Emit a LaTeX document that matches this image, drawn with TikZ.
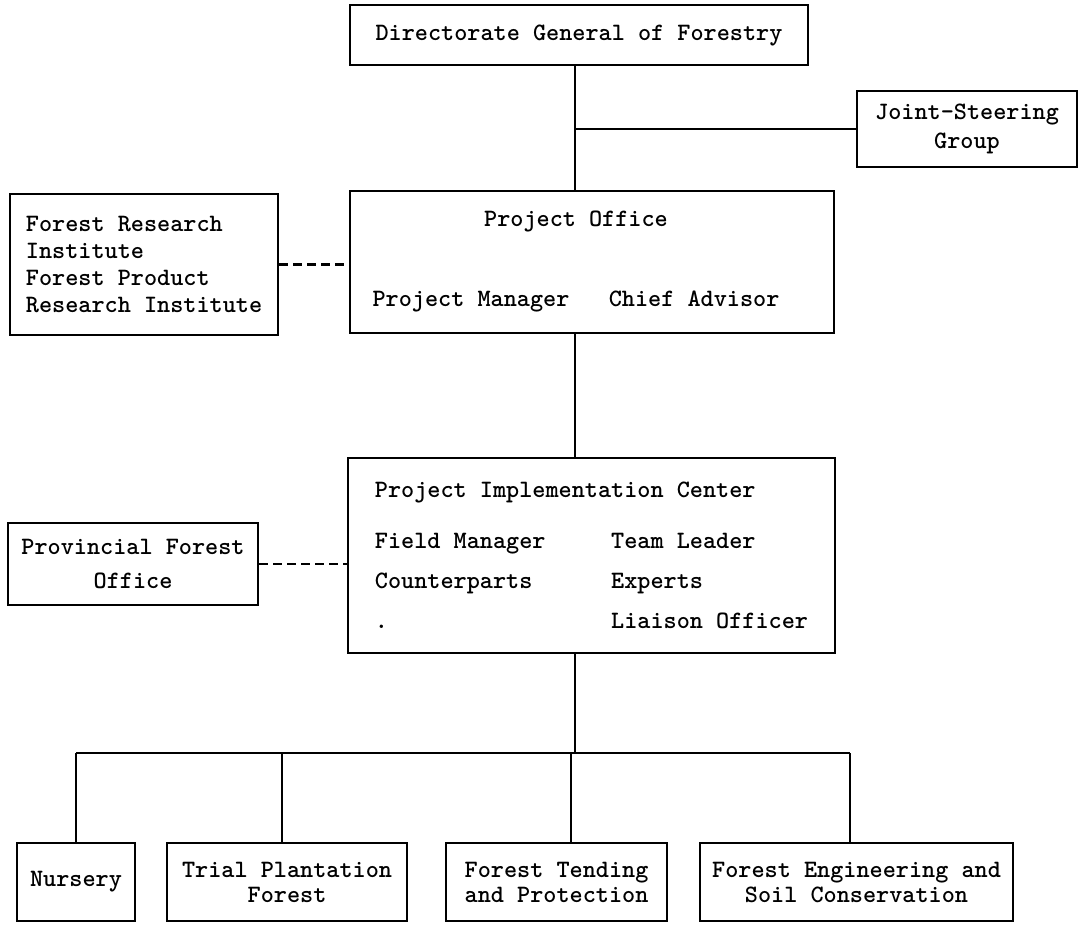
\documentclass[tikz,border=0pt]{standalone}
\usetikzlibrary{calc}

\begin{document}
\begin{tikzpicture}
    [   x=1pt
    ,   y=-1pt
    ,   box/.style=
        {   draw
        ,   line width=2.6pt
        ,   inner sep=0pt
        ,   align=center
        ,   font=\fontsize{25}{27}\selectfont\ttfamily\bfseries
        }
    ,   link/.style=
        {   line width=2.2pt
        }
    ,   dashlink/.style=
        {   line width=2.2pt
        ,   dash pattern=on 9pt off 5pt
        }
    ]
    \useasboundingbox (0,0) rectangle (1079,924);
    \coordinate (spine) at (575,0);
    \coordinate (bus) at (575,753);

    \node[box, minimum width=458pt, minimum height=60pt] (DGF) at (579,35)
        {Directorate General of Forestry};
    \node[box, minimum width=220pt, minimum height=76pt] (JSG) at (967,129)
        {Joint-Steering\\[2pt]Group};
    \node[box, align=left, minimum width=268pt, minimum height=141pt] (FRI) at (144,264.5)
        {Forest Research\\Institute\\Forest Product\\Research Institute};
    \node[box, minimum width=484pt, minimum height=142pt] (PO) at (592,262) {};
    \node[box, draw=none] (POtext) at (576,262)
        {Project Office\\[53pt]Project Manager\ \ \ Chief Advisor};
    \node[box, align=left, minimum width=487pt, minimum height=195pt] (PIC) at (591.5,555.5)
        {Project Implementation Center\\[24pt]
         Field Manager\ \ \ \ \ Team Leader\\[13pt]
         Counterparts\ \ \ \ \ \ Experts\\[13pt]
         .\ \ \ \ \ \ \ \ \ \ \ \ \ \ \ \ \ Liaison Officer};
    \node[box, minimum width=250pt, minimum height=82pt] (PFO) at (133,564)
        {Provincial Forest\\[7pt]Office};

    \node[box, minimum width=118pt, minimum height=78pt] (nur) at (76,882)
        {Nursery};
    \node[box, minimum width=240pt, minimum height=78pt] (tri) at (287,882)
        {Trial Plantation\\[-2pt]Forest};
    \node[box, minimum width=221pt, minimum height=78pt] (ten) at (556.5,882)
        {Forest Tending\\[-2pt]and Protection};
    \node[box, minimum width=313pt, minimum height=78pt] (eng) at (856.5,882)
        {Forest Engineering and\\[-2pt]Soil Conservation};

    \coordinate (dnur) at (76,753);
    \coordinate (dtri) at (282,753);
    \coordinate (dten) at (571,753);
    \coordinate (deng) at (850,753);
    \foreach\n in {nur,tri,ten,eng}
    {   \draw[link] (d\n) -- (d\n |- \n.north);
    }

    \draw[link] (DGF.south -| spine) -- (PO.north -| spine);
    \draw[link] (JSG.west -| spine) -- (JSG.west);
    \draw[link] (PO.south -| spine) -- (PIC.north -| spine);
    \draw[link] (PIC.south -| spine) -- (bus);
    \draw[link] (dnur) -- (deng);
    \draw[dashlink] (FRI.east) -- (FRI.east -| PO.west);
    \draw[dashlink] (PFO.east) -- (PFO.east -| PIC.west);
\end{tikzpicture}
\end{document}
